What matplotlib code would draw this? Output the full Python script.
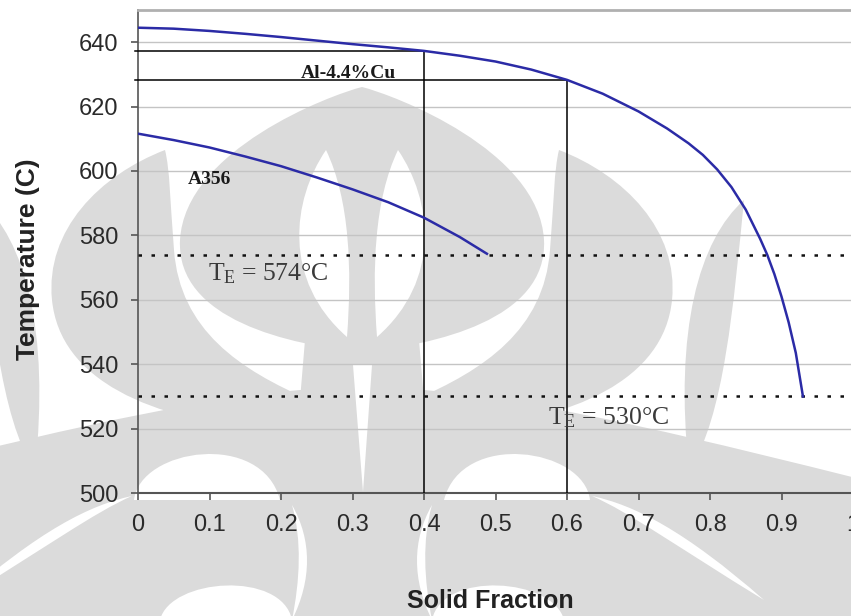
import matplotlib
matplotlib.use('Agg')
import matplotlib.pyplot as plt
from matplotlib.path import Path
from matplotlib.patches import PathPatch

W, H = 851, 616

# solid fraction vs temperature curves
cu_fs = [0, 0.05, 0.1, 0.15, 0.2, 0.25, 0.3, 0.35, 0.4, 0.45, 0.5, 0.55, 0.6,
         0.65, 0.7, 0.74, 0.77, 0.79, 0.81, 0.83, 0.85, 0.87, 0.88, 0.89, 0.9, 0.91, 0.92, 0.93]
cu_T = [644.5, 644.2, 643.5, 642.6, 641.6, 640.5, 639.4, 638.4, 637.3, 635.8, 634.0, 631.5, 628.3,
        624.0, 618.5, 613.2, 608.6, 605.0, 600.5, 595.0, 588.0, 579.0, 574.0, 568.0, 561.0,
        553.0, 543.5, 530.0]
a356_fs = [0, 0.05, 0.1, 0.15, 0.2, 0.25, 0.3, 0.35, 0.4, 0.45, 0.488]
a356_T = [611.6, 609.6, 607.3, 604.5, 601.5, 598.0, 594.3, 590.3, 585.5, 579.5, 574.3]

# eutectic temperatures and the two marked solid fractions
eutectics = [574, 530]
marked_fs = [0.4, 0.6]
marked_T = [637.3, 628.3]

xticks = [0, 0.1, 0.2, 0.3, 0.4, 0.5, 0.6, 0.7, 0.8, 0.9, 1]
xticklabels = ['0', '0.1', '0.2', '0.3', '0.4', '0.5', '0.6', '0.7', '0.8', '0.9', '1']
yticks = [500, 520, 540, 560, 580, 600, 620, 640]

plt.rcParams['mathtext.fontset'] = 'custom'
plt.rcParams['mathtext.rm'] = 'Liberation Serif'

fig = plt.figure(figsize=(W / 100, H / 100), dpi=100)
fig.patch.set_facecolor('white')

# --- background emblem, drawn in pixel coordinates (y downwards) ---
GRAY = '#dbdbdb'


def to_fig(p):
    return (p[0] / W, 1 - p[1] / H)


def blob(start, segs, color=GRAY, mirror=False):
    f = (lambda p: (724 - p[0], p[1])) if mirror else (lambda p: p)
    verts = [to_fig(f(start))]
    codes = [Path.MOVETO]
    for s in segs:
        verts += [to_fig(f(p)) for p in s]
        codes += [Path.CURVE4] * 3 if len(s) == 3 else [Path.LINETO]
    verts.append(verts[0])
    codes.append(Path.CLOSEPOLY)
    fig.add_artist(PathPatch(Path(verts, codes), facecolor=color, edgecolor='none',
                             transform=fig.transFigure, zorder=-5))


for m in (False, True):
    # lower sweep
    blob((-140, 480), [((0, 445), (180, 400), (300, 390)),
                       [(362, 390)], [(362, 630)], [(-140, 630)]], mirror=m)
    # side wings
    blob((165, 150), [((100, 175), (45, 230), (52, 300)),
                      ((60, 380), (150, 420), (270, 430)),
                      [(310, 400)],
                      ((240, 370), (180, 330), (174, 250)),
                      ((170, 200), (170, 170), (165, 150))], mirror=m)
    # outer crescents
    blob((-20, 200), [((25, 240), (50, 330), (35, 470)),
                      ((0, 420), (-10, 300), (-20, 200))], mirror=m)
# flame and its neck
blob((362, 87), [((330, 95), (185, 150), (180, 240)),
                 ((176, 320), (290, 345), (362, 352)),
                 ((434, 345), (548, 320), (544, 240)),
                 ((539, 150), (394, 95), (362, 87))])
blob((305, 340), [[(419, 340)], [(424, 400)], [(300, 400)]])

# white cut-outs
for m in (False, True):
    # almond tongues
    blob((326, 150), [((292, 200), (282, 280), (347, 337)),
                      ((352, 270), (350, 200), (326, 150))], color='white', mirror=m)
    # domes
    blob((134, 500), [((140, 448), (262, 430), (280, 500))], color='white', mirror=m)
    blob((160, 620), [((170, 578), (282, 570), (292, 620))], color='white', mirror=m)
    # thin sweeping gaps
    blob((-40, 600), [((40, 530), (90, 505), (132, 496)),
                      ((95, 512), (45, 548), (-40, 600))], color='white', mirror=m)
    blob((292, 505), [((312, 540), (312, 580), (292, 620)),
                      ((300, 580), (302, 540), (292, 505))], color='white', mirror=m)
# stem slit
blob((353, 365), [[(372, 365)], [(363, 492)]], color='white')

# --- chart ---
ax = fig.add_axes([138 / W, (H - 493) / H, 715 / W, 483 / H])
ax.set_facecolor('none')

ax.set_xlim(0, 1)
ax.set_ylim(500, 650)
ax.yaxis.grid(True, color='#c4c4c4', lw=1.0)
ax.set_axisbelow(True)

ax.plot(cu_fs, cu_T, color='#2b2ba6', lw=1.8, zorder=4)
ax.plot(a356_fs, a356_T, color='#2b2ba6', lw=1.8, zorder=4)

for T in eutectics:
    ax.axhline(T, color='#111111', lw=1.8, ls=(0, (1.4, 3.8)), zorder=3)

for fs, T in zip(marked_fs, marked_T):
    ax.plot([-0.004, fs], [T, T], color='black', lw=1.1, clip_on=False, zorder=3)
    ax.plot([fs, fs], [500, T], color='black', lw=1.1, zorder=3)

ax.text(0.294, 627.6, 'Al-4.4%Cu', family='Liberation Serif', weight='bold',
        fontsize=14, ha='center', va='bottom', color='#1a1a1a')
ax.text(0.10, 597.3, 'A356', family='Liberation Serif', weight='bold',
        fontsize=14, ha='center', va='center', color='#1a1a1a')
ax.text(0.098, 568.0, r'$\mathrm{T_E}$ = 574°C', family='Liberation Serif',
        fontsize=18.5, ha='left', va='center', color='#3a3a3a')
ax.text(0.574, 523.4, r'$\mathrm{T_E}$ = 530°C', family='Liberation Serif',
        fontsize=18.5, ha='left', va='center', color='#3a3a3a')

ax.set_xticks(xticks)
ax.set_xticklabels(xticklabels)
ax.set_yticks(yticks)
ax.tick_params(axis='both', labelsize=17, labelcolor='#2a2a2a', color='#555555',
               direction='out', length=5, width=1.2)
ax.tick_params(axis='x', pad=10)
ax.tick_params(axis='y', pad=9)
for lbl in ax.get_xticklabels() + ax.get_yticklabels():
    lbl.set_family('Liberation Sans')

ax.spines['top'].set_color('#b0b0b0')
ax.spines['top'].set_linewidth(2)
ax.spines['right'].set_visible(False)
ax.spines['left'].set_color('#555555')
ax.spines['bottom'].set_color('#555555')
ax.spines['left'].set_linewidth(1.2)
ax.spines['bottom'].set_linewidth(1.5)

fig.text(28 / W, 1 - 259 / H, 'Temperature (C)', rotation=90, ha='center', va='center',
         family='Liberation Sans', weight='bold', fontsize=19, color='#222222')
fig.text(490 / W, 1 - 601 / H, 'Solid Fraction', ha='center', va='center',
         family='Liberation Sans', weight='bold', fontsize=18, color='#222222')

fig.savefig('out.png', dpi=100, facecolor='white')
